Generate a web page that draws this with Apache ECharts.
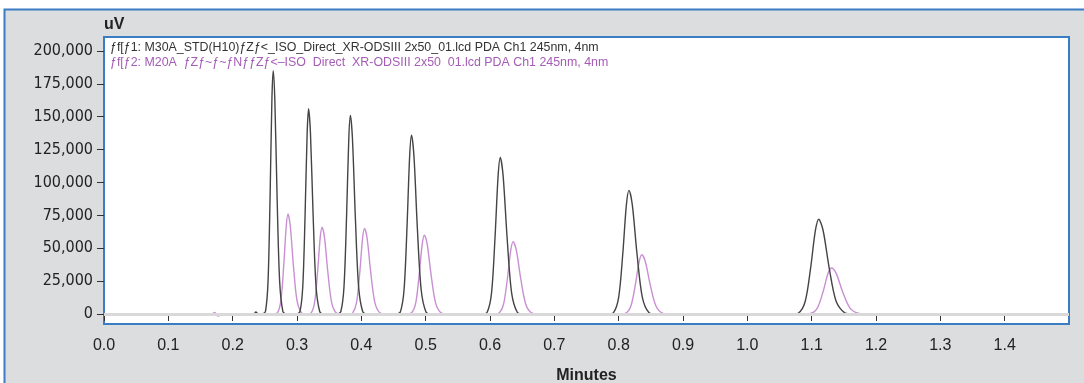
<!DOCTYPE html>
<html>
<head>
<meta charset="utf-8">
<script src="https://cdn.jsdelivr.net/npm/echarts@6/dist/echarts.min.js"></script>
<style>
  html, body { margin: 0; padding: 0; background: #fff; }
  #chart { width: 1084px; height: 383px; }
</style>
</head>
<body>
<div id="chart"></div>
<script>
// trace names (as shown in the chromatogram legend)
var traceNames = [
    'ƒf[ƒ1: M30A_STD(H10)ƒZƒ<_ISO_Direct_XR-ODSIII 2x50_01.lcd PDA Ch1 245nm, 4nm',
    'ƒf[ƒ2: M20A  ƒZƒ~ƒ~ƒNƒƒZƒ<–ISO  Direct  XR-ODSIII 2x50  01.lcd PDA Ch1 245nm, 4nm'
];

// tick positions
var xTicks = [0, 0.1, 0.2, 0.3, 0.4, 0.5, 0.6, 0.7, 0.8, 0.9, 1.0, 1.1, 1.2, 1.3, 1.4];
var yTicks = [0, 25000, 50000, 75000, 100000, 125000, 150000, 175000, 200000];

// trace 1 (M30A) - [minutes, uV]
var trace1 = [
    [0.150, 0], [0.233, 0], [0.236, 1500], [0.240, 0], [0.246, 0],
    // peak 1
    [0.251, 2000], [0.255, 25000], [0.2582, 90100], [0.261, 163300], [0.263, 185000],
    [0.2655, 163300], [0.269, 90100], [0.273, 25000], [0.278, 2000], [0.283, 0],
    // peak 2
    [0.2985, 0],
    [0.3045, 1700], [0.309, 21100], [0.3126, 76000], [0.3158, 137700], [0.318, 156000],
    [0.3209, 137700], [0.325, 76000], [0.3296, 21100], [0.3354, 1700], [0.3412, 0],
    // peak 3
    [0.362, 0],
    [0.368, 1700], [0.373, 20400], [0.377, 73500], [0.3805, 133300], [0.383, 151000],
    [0.3862, 133300], [0.3907, 73500], [0.3958, 20400], [0.4022, 1700], [0.4086, 0],
    // peak 4
    [0.454, 0],
    [0.4606, 1500], [0.4664, 18400], [0.471, 66200], [0.4751, 120000], [0.478, 136000],
    [0.4818, 120000], [0.487, 66200], [0.493, 18400], [0.5005, 1500], [0.508, 0],
    // peak 5
    [0.588, 0],
    [0.5956, 1300], [0.6024, 16100], [0.6078, 58000], [0.6126, 105000], [0.616, 119000],
    [0.6204, 105000], [0.6266, 58000], [0.6336, 16100], [0.6424, 1300], [0.6512, 0],
    // peak 6
    [0.783, 0],
    [0.792, 1000], [0.800, 12700], [0.8064, 45800], [0.812, 83000], [0.816, 94000],
    [0.8212, 83000], [0.8285, 45800], [0.8368, 12700], [0.8472, 1000], [0.8576, 0],
    // peak 7
    [1.068, 0],
    [1.0795, 800], [1.090, 9700], [1.0984, 35100], [1.1058, 63500], [1.111, 72000],
    [1.1178, 63500], [1.1272, 35100], [1.138, 9700], [1.1515, 800], [1.165, 0],
    [1.200, 0]
];

// trace 2 (M20A) - [minutes, uV]
var trace2 = [
    [0.160, 0], [0.168, 0], [0.172, 1200], [0.177, -1500], [0.183, -800], [0.190, 0], [0.262, 0],
    // peak 1
    [0.2695, 800], [0.275, 10300], [0.2794, 37000], [0.2833, 67100], [0.286, 76000],
    [0.2895, 67100], [0.2944, 37000], [0.300, 10300], [0.307, 800], [0.314, 0],
    // peak 2
    [0.3216, 700], [0.3274, 8900], [0.332, 32100], [0.3361, 58300], [0.339, 66000],
    [0.3427, 58300], [0.3479, 32100], [0.3538, 8900], [0.3612, 700], [0.3686, 0],
    // peak 3
    [0.3800, 0],
    [0.3864, 700], [0.3926, 8800], [0.3976, 31700], [0.4019, 57400], [0.405, 65000],
    [0.409, 57400], [0.4146, 31700], [0.421, 8800], [0.429, 700], [0.437, 0],
    // peak 4
    [0.470, 0],
    [0.4776, 700], [0.4844, 8100], [0.4898, 29200], [0.4946, 53000], [0.498, 60000],
    [0.5024, 53000], [0.5086, 29200], [0.5156, 8100], [0.5244, 700], [0.5332, 0],
    // peak 5
    [0.605, 0],
    [0.6135, 600], [0.621, 7400], [0.627, 26800], [0.6323, 48500], [0.636, 55000],
    [0.6409, 48500], [0.6478, 26800], [0.6556, 7400], [0.6654, 600], [0.6752, 0],
    // peak 6
    [0.801, 0],
    [0.8105, 500], [0.819, 6100], [0.8258, 21900], [0.8318, 39700], [0.836, 45000],
    [0.8415, 39700], [0.8492, 21900], [0.858, 6100], [0.869, 500], [0.880, 0],
    // peak 7
    [1.086, 0],
    [1.098, 400], [1.109, 4700], [1.1178, 17100], [1.1255, 30900], [1.131, 35000],
    [1.1381, 30900], [1.148, 17100], [1.1594, 4700], [1.1736, 400], [1.1878, 0],
    [1.200, 0]
];

var font = 'Liberation Sans';

option = {
    backgroundColor: '#ffffff',
    animation: false,
    textStyle: { fontFamily: font },
    graphic: [{
        type: 'rect',
        z: -100,
        silent: true,
        shape: { x: 4.5, y: 9.5, width: 1100, height: 400 },
        style: { fill: '#dcdddf', stroke: '#3b7dc4', lineWidth: 2 }
    }],
    legend: {
        orient: 'vertical',
        left: 104,
        top: 42,
        itemWidth: 0,
        itemHeight: 0,
        itemGap: 3,
        padding: 0,
        selectedMode: false,
        data: [
            { name: traceNames[0], textStyle: { color: '#333333' } },
            { name: traceNames[1], textStyle: { color: '#a45cb6' } }
        ],
        textStyle: { fontFamily: font, fontSize: 12.4 }
    },
    grid: {
        left: 104,
        right: 15,
        top: 37,
        bottom: 59,
        outerBoundsMode: 'none',
        containLabel: false,
        show: true,
        backgroundColor: '#ffffff',
        borderColor: '#3b7dc4',
        borderWidth: 2
    },
    xAxis: {
        type: 'value',
        min: 0,
        max: 1.5,
        name: 'Minutes',
        nameLocation: 'middle',
        nameGap: 44,
        nameTextStyle: { fontFamily: font, fontSize: 16, fontWeight: 'bold', color: '#222' },
        axisLine: { show: false },
        splitLine: { show: false },
        axisTick: { show: true, length: 7, lineStyle: { color: '#333' }, customValues: xTicks },
        axisLabel: {
            customValues: xTicks,
            margin: 14,
            fontSize: 16,
            color: '#222',
            fontFamily: font,
            formatter: function (v) { return v.toFixed(1); }
        }
    },
    yAxis: {
        type: 'value',
        min: -7600,
        max: 210600,
        name: 'uV',
        nameLocation: 'end',
        nameGap: 4,
        nameTextStyle: { fontFamily: font, fontSize: 16, fontWeight: 'bold', color: '#222', align: 'left' },
        axisLine: { show: false },
        splitLine: { show: false },
        axisTick: { show: true, length: 7, lineStyle: { color: '#333' }, customValues: yTicks },
        axisLabel: {
            customValues: yTicks,
            margin: 11,
            fontSize: 16,
            color: '#222',
            fontFamily: '"DejaVu Sans Condensed", "Liberation Sans"',
            formatter: function (v) { return v.toLocaleString('en-US'); }
        }
    },
    series: [{
        // zero baseline band
        type: 'line',
        data: [],
        z: 1,
        silent: true,
        markLine: {
            silent: true,
            symbol: 'none',
            label: { show: false },
            lineStyle: { color: '#d9d9d9', width: 3, type: 'solid' },
            data: [{ yAxis: 0 }]
        }
    }, {
        name: traceNames[1],
        type: 'line',
        data: trace2,
        z: 2,
        showSymbol: false,
        smooth: 0.3,
        lineStyle: { color: '#c98fd3', width: 1.4 },
        itemStyle: { color: '#c98fd3' }
    }, {
        name: traceNames[0],
        type: 'line',
        data: trace1,
        z: 3,
        showSymbol: false,
        smooth: 0.3,
        lineStyle: { color: '#444444', width: 1.4 },
        itemStyle: { color: '#444444' }
    }]
};

var myChart = echarts.init(document.getElementById('chart'), null, { renderer: 'canvas' });
myChart.setOption(option);
</script>
</body>
</html>
